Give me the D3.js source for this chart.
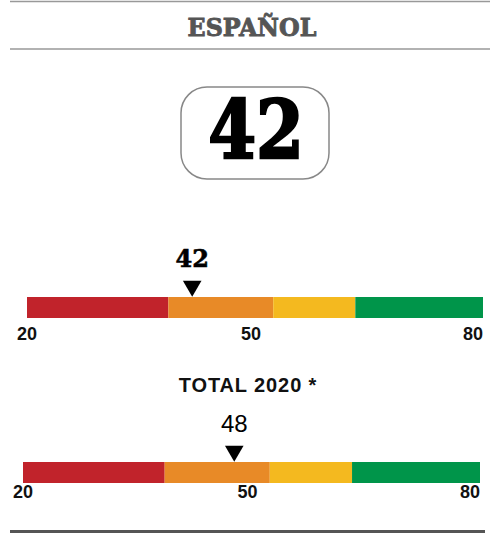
<!DOCTYPE html>
<html>
<head>
<meta charset="utf-8">
<script src="https://cdn.jsdelivr.net/npm/d3@7"></script>
<style>
  body { margin: 0; background: #fff; }
</style>
</head>
<body>
<svg id="drawing_region"></svg>
<script>
// values
const title = "ESPAÑOL";
const score = 42;
const totalLabel = "TOTAL 2020 *";
const totalScore = 48;
const domain = [20, 80];
const tickValues = [20, 50, 80];
const bandEdges = [20, 38.6, 52.4, 63.2, 80];
const bandColors = ["#c1232b", "#e88a27", "#f4b91f", "#00954a"];

const width = 490, height = 533;
const svg = d3.select('#drawing_region')
    .attr('width', width)
    .attr('height', height);

// header rules + title
svg.append('line').attr('x1', 10).attr('x2', 490).attr('y1', 1.5).attr('y2', 1.5)
    .attr('stroke', '#999').attr('stroke-width', 1.5);
svg.append('line').attr('x1', 10).attr('x2', 490).attr('y1', 49).attr('y2', 49)
    .attr('stroke', '#999').attr('stroke-width', 1.5);
svg.append('text')
    .attr('transform', 'translate(252,36) scale(0.95,1)')
    .attr('text-anchor', 'middle')
    .attr('font-family', "'DejaVu Serif', serif")
    .attr('font-weight', 'bold')
    .attr('font-size', 25)
    .attr('fill', '#555')
    .attr('stroke', '#555')
    .attr('stroke-width', 0.9)
    .text(title);

// big score box
svg.append('rect')
    .attr('x', 181).attr('y', 87).attr('width', 148).attr('height', 92)
    .attr('rx', 26).attr('ry', 26)
    .attr('fill', 'none').attr('stroke', '#888').attr('stroke-width', 1.5);
svg.append('text')
    .attr('transform', 'translate(256,158) scale(0.86,1)')
    .attr('text-anchor', 'middle')
    .attr('font-family', "'DejaVu Serif', serif")
    .attr('font-weight', 'bold')
    .attr('font-size', 80)
    .attr('fill', '#000')
    .attr('stroke', '#000')
    .attr('stroke-width', 2.5)
    .text(score);

function gauge(cfg) {
  const x = d3.scaleLinear().domain(domain).range([cfg.x0, cfg.x1]);
  const g = svg.append('g');
  const bands = d3.range(bandColors.length).map(i => ({
    from: bandEdges[i], to: bandEdges[i + 1], color: bandColors[i]
  }));
  g.selectAll('rect.band')
    .data(bands)
    .enter()
    .append('rect')
    .attr('class', 'band')
    .attr('x', d => x(d.from))
    .attr('width', d => x(d.to) - x(d.from))
    .attr('y', cfg.y)
    .attr('height', 21)
    .attr('fill', d => d.color);

  // marker triangle
  const mx = x(cfg.value) - 2;
  g.append('path')
    .attr('d', d3.symbol().type(d3.symbolTriangle).size(150))
    .attr('transform', `translate(${mx},${cfg.y - 11}) rotate(180)`)
    .attr('fill', '#000');
  g.append('text')
    .attr('x', mx).attr('y', cfg.y - 30)
    .attr('text-anchor', 'middle')
    .attr('font-family', cfg.valueFont)
    .attr('font-weight', cfg.valueWeight)
    .attr('font-size', 24)
    .attr('stroke', cfg.valueStroke ? '#000' : 'none')
    .attr('stroke-width', 0.6)
    .text(cfg.value);

  // tick labels
  g.selectAll('text.tick')
    .data(tickValues)
    .enter()
    .append('text')
    .attr('class', 'tick')
    .attr('x', (d, i) => i === 0 ? x(d) : (i === tickValues.length - 1 ? x(d) : x(d) - 4))
    .attr('y', cfg.y + cfg.tickDy)
    .attr('text-anchor', (d, i) => i === tickValues.length - 1 ? 'end' : 'middle')
    .attr('font-family', 'Liberation Sans, Arial, sans-serif')
    .attr('font-weight', 'bold')
    .attr('font-size', 18)
    .attr('fill', '#111')
    .text(d => d);
}

gauge({ x0: 27, x1: 483, y: 297, value: score, tickDy: 43,
        valueFont: "'DejaVu Serif', serif", valueWeight: 'bold', valueStroke: true });

svg.append('text')
    .attr('x', 248).attr('y', 392)
    .attr('text-anchor', 'middle')
    .attr('font-family', 'Liberation Sans, Arial, sans-serif')
    .attr('font-weight', 'bold')
    .attr('font-size', 20)
    .attr('letter-spacing', 0.9)
    .attr('fill', '#111')
    .text(totalLabel);

gauge({ x0: 23, x1: 480, y: 462, value: totalScore, tickDy: 36,
        valueFont: 'Liberation Sans, Arial, sans-serif', valueWeight: 'normal', valueStroke: false });

// bottom rule
svg.append('line').attr('x1', 10).attr('x2', 485).attr('y1', 531.5).attr('y2', 531.5)
    .attr('stroke', '#555').attr('stroke-width', 3);
</script>
</body>
</html>
